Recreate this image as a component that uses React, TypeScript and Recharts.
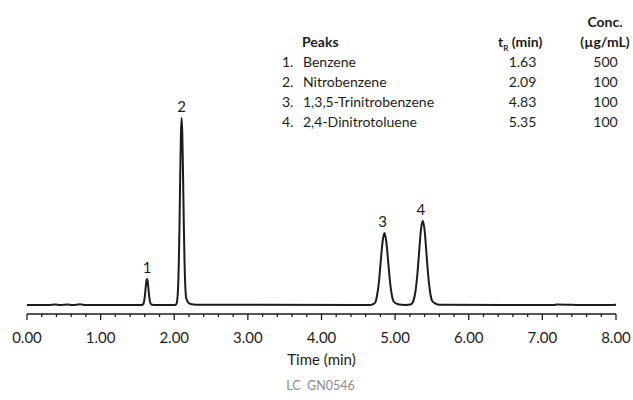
import React from "react"
import { LineChart, Line, XAxis, YAxis, ReferenceDot } from "recharts"

// chromatogram trace, time (min) vs detector signal (arbitrary units)
const traceTime = [
  0, 0.3, 0.38, 0.45, 0.55, 0.62, 0.72, 0.8, 1.5,
  1.56, 1.58, 1.59, 1.6, 1.61, 1.62, 1.63, 1.64, 1.65, 1.66, 1.67, 1.68, 1.7, 1.75,
  2.0, 2.02, 2.03, 2.04, 2.05, 2.06, 2.07, 2.08, 2.09, 2.1, 2.11, 2.12, 2.13, 2.14, 2.15, 2.16, 2.18, 2.22, 2.3,
  4.6, 4.65, 4.68, 4.7, 4.73, 4.755, 4.78, 4.805, 4.83, 4.855, 4.88, 4.905, 4.93, 4.955, 4.98, 5.03,
  5.1, 5.15, 5.2, 5.225, 5.25, 5.275, 5.3, 5.325, 5.35, 5.375, 5.4, 5.425, 5.45, 5.475, 5.5, 5.55, 5.6,
  7.1, 7.15, 7.2, 7.6, 7.8, 8.0,
]
const traceSignal = [
  0, 0, 0.6, 0, 0.5, 0, 0.7, 0, 0,
  0, 1.1, 3.5, 8.5, 15.8, 23, 26, 23, 15.8, 8.5, 3.6, 1.3, 0.2, 0,
  0, 0.4, 1.2, 4.5, 14, 36, 74, 124, 169, 187, 170, 128, 80, 42, 19, 8, 3.5, 1, 0.3, 0,
  0, 0.3, 0.8, 2.5, 9.7, 23, 44, 63.5, 72, 63.5, 44, 23.5, 10, 3.5, 1, 0.2,
  0, 0.4, 1.3, 4.6, 13, 29, 52, 75, 84, 75, 52, 29, 13, 4.6, 1.4, 0.3, 0,
  0, 0.6, 0, 0, 0.3, 0,
]

// peak table
const peakNumbers = ["1.", "2.", "3.", "4."]
const peakNames = ["Benzene", "Nitrobenzene", "1,3,5-Trinitrobenzene", "2,4-Dinitrotoluene"]
const retentionTimes = ["1.63", "2.09", "4.83", "5.35"]
const concentrations = ["500", "100", "100", "100"]

// peak apex markers
const apexLabels = ["1", "2", "3", "4"]
const apexTimes = [1.63, 2.1, 4.83, 5.35]
const apexHeights = [26, 187, 72, 84]

// x axis
const majorLabels = ["0.00", "1.00", "2.00", "3.00", "4.00", "5.00", "6.00", "7.00", "8.00"]
const xTicks = Array.from({ length: 41 }, (_, i) => i / 5)

const data = traceTime.map((t, i) => ({ time: t, signal: traceSignal[i] }))

const FONT = "Lato, 'Open Sans', sans-serif"
const INK = "#1c1c1c"

function TimeTick(props: any) {
  const { x, y, payload } = props
  const v = payload.value as number
  const major = Number.isInteger(v)
  return (
    <g>
      <line x1={x} x2={x} y1={y} y2={y + (major ? 6 : 3)} stroke={INK} strokeWidth={1.3} />
      {major && (
        <text x={x} y={y + 28.5} textAnchor="middle" fontSize={15} fontFamily={FONT} fill={INK}>
          {majorLabels[v]}
        </text>
      )}
    </g>
  )
}

const rowBase = [66.7, 86.7, 106.7, 126.7]

export default function App() {
  return (
    <div style={{ position: "absolute", left: 0, top: 0, width: 633, height: 400, background: "#fff", fontFamily: FONT }}>
      <LineChart width={633} height={400} data={data} margin={{ top: 20, right: 17, left: 27, bottom: 30 }}>
        <XAxis
          dataKey="time"
          type="number"
          domain={[0, 8]}
          ticks={xTicks}
          interval={0}
          height={56}
          tickSize={0}
          tickMargin={0}
          tickLine={false}
          tick={<TimeTick />}
          axisLine={{ stroke: INK, strokeWidth: 1.3 }}
          label={{ value: "Time (min)", position: "insideBottom", offset: 5, fontSize: 15, fill: INK, fontFamily: FONT }}
        />
        <YAxis hide type="number" domain={[-9, 285]} />
        <Line
          type="monotone"
          dataKey="signal"
          stroke={INK}
          strokeWidth={2}
          dot={false}
          isAnimationActive={false}
        />
        {apexTimes.map((t, i) => (
          <ReferenceDot
            key={apexLabels[i]}
            x={t}
            y={apexHeights[i]}
            r={0}
            stroke="none"
            fill="none"
            label={{ value: apexLabels[i], position: "top", offset: 6, fontSize: 15, fill: INK, fontFamily: FONT }}
          />
        ))}
      </LineChart>
      <svg width={633} height={400} style={{ position: "absolute", left: 0, top: 0, pointerEvents: "none" }}>
        <g fontFamily={FONT} fill={INK} fontSize={14}>
          <text x={302} y={46.7} fontWeight={700}>Peaks</text>
          <text x={498} y={46.7} fontWeight={700}>
            t<tspan fontSize={8} dy={4}>R</tspan>
            <tspan dy={-4}> (min)</tspan>
          </text>
          <text x={605} y={26.7} fontWeight={700} textAnchor="middle">Conc.</text>
          <text x={605} y={46.7} fontWeight={700} textAnchor="middle">(µg/mL)</text>
          {peakNames.map((name, i) => (
            <g key={name}>
              <text x={282} y={rowBase[i]}>{peakNumbers[i]}</text>
              <text x={303} y={rowBase[i]}>{name}</text>
              <text x={522.5} y={rowBase[i]} textAnchor="middle">{retentionTimes[i]}</text>
              <text x={605.5} y={rowBase[i]} textAnchor="middle">{concentrations[i]}</text>
            </g>
          ))}
        </g>
        <text x={320.5} y={390} textAnchor="middle" fontSize={12.5} fontFamily={FONT} fill="#8c8c8c">
          {"LC\u00a0\u00a0GN0546"}
        </text>
      </svg>
    </div>
  )
}
